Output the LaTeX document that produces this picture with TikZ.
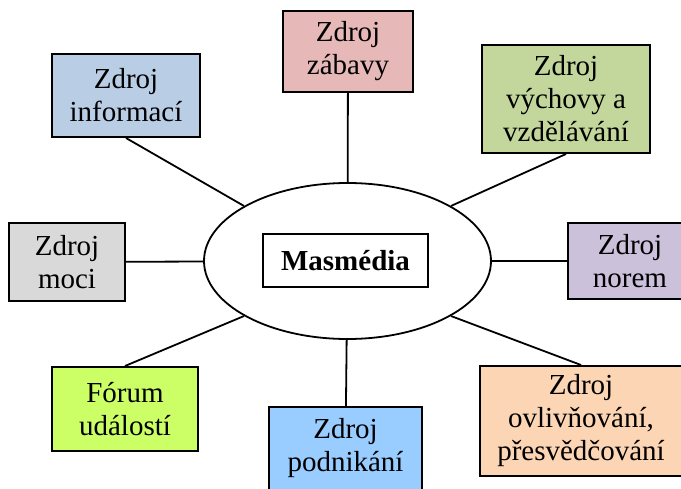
\documentclass[tikz,border=0pt]{standalone}
\usepackage{fontspec}
\setmainfont{Liberation Serif}
\usetikzlibrary{shapes.geometric}

\definecolor{cinfo}{HTML}{B9CDE5}
\definecolor{czabava}{HTML}{E6B9B8}
\definecolor{cvychova}{HTML}{C3D69B}
\definecolor{cmoc}{HTML}{D9D9D9}
\definecolor{cnormy}{HTML}{CCC1DA}
\definecolor{cforum}{HTML}{CCFF66}
\definecolor{cpodnik}{HTML}{99CCFF}
\definecolor{covliv}{HTML}{FCD5B5}

\tikzset{
  roleBox/.style={draw=black, line width=2pt, align=center, inner sep=0pt,
    font=\fontsize{29}{33}\selectfont,
    execute at begin node={\rule{0pt}{25pt}}},
  link/.style={line width=1.8pt}
}

\begin{document}
\begin{tikzpicture}[x=1pt,y=-1pt]
\clip (0,0) rectangle (681,489);
\fill[white] (0,0) rectangle (681,489);

% central ellipse with the title box
\node[ellipse, draw, line width=1.8pt, minimum width=287pt, minimum height=156pt, inner sep=0pt]
  (mm) at (347.5,261) {};
\node[draw, line width=1.8pt, minimum width=165pt, minimum height=53pt, inner sep=0pt,
  font=\fontsize{29}{33}\selectfont\bfseries] (title) at (345.5,260.5) {Masmédia};

% surrounding boxes
\node[roleBox, fill=cinfo, minimum width=148pt, minimum height=83pt] (info) at (126,95.5) {Zdroj\\informací};
\node[roleBox, fill=czabava, minimum width=130pt, minimum height=81pt] (zab) at (348,51.5) {Zdroj\\zábavy};
\node[roleBox, fill=cvychova, minimum width=168pt, minimum height=108pt] (vych) at (566,99) {Zdroj\\výchovy a\\vzdělávání};
\node[roleBox, fill=cmoc, minimum width=116pt, minimum height=78pt] (moc) at (67,262) {Zdroj\\moci};
\node[roleBox, fill=cnormy, minimum width=124pt, minimum height=76pt] (norm) at (630,261) {Zdroj\\norem};
\node[roleBox, fill=cforum, minimum width=146pt, minimum height=84pt] (forum) at (125,409) {Fórum\\událostí};
\node[roleBox, fill=cpodnik, minimum width=153pt, minimum height=83pt] (podnik) at (345.5,448.5) {Zdroj\\podnikání};
\node[roleBox, fill=covliv, minimum width=202pt, minimum height=110pt] (ovliv) at (581,421) {Zdroj\\ovlivňování,\\přesvědčování};

% connectors
\draw[link] (info.south) -- (mm.152);
\draw[link] (zab) -- (mm);
\draw[link] (vych.south) -- (mm.28);
\draw[link] (moc) -- (mm);
\draw[link] (norm) -- (mm);
\draw[link] (forum.north) -- (mm.208);
\draw[link] (podnik) -- (mm);
\draw[link] (ovliv.north) -- (mm.-28);
\end{tikzpicture}
\end{document}
